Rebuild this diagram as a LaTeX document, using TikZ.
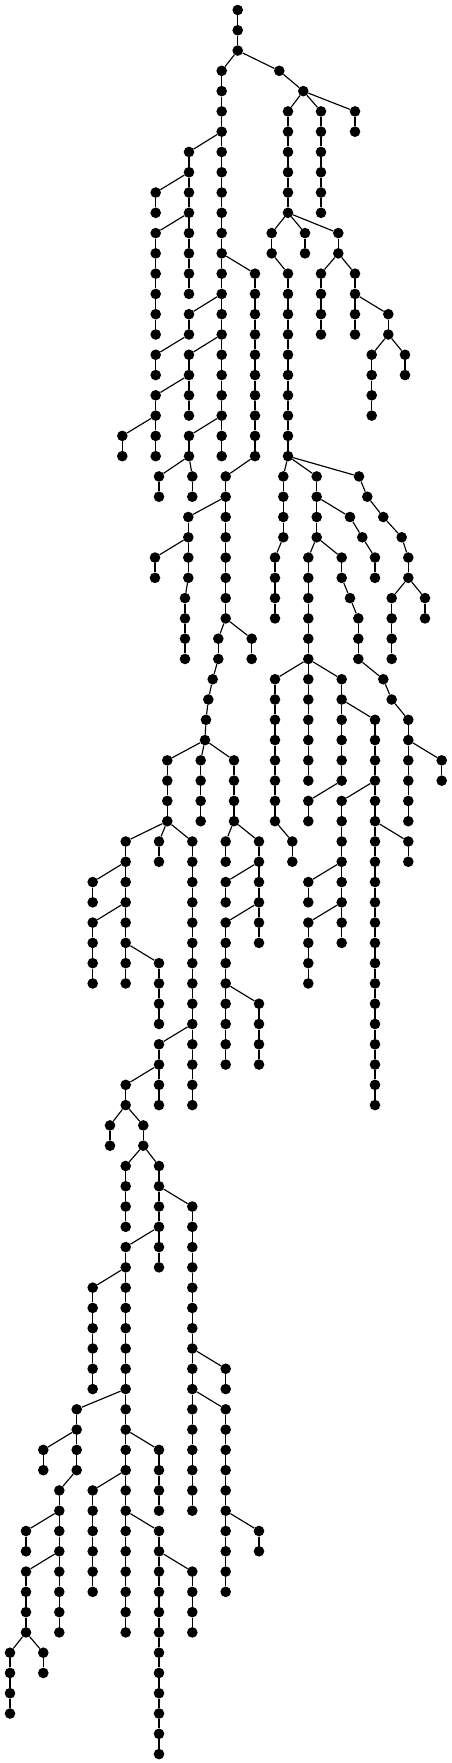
\documentclass[tikz,border=0pt]{standalone}
\tikzset{
  dot/.style={circle, fill=black, draw=none, inner sep=0pt, minimum size=10.6pt},
  edge/.style={line width=1.15pt, black}
}
\newcommand\chainx[5]{%
  \foreach \r in {#3,...,#4}{\node[dot] (#1\r) at (#2,{10+20.28*\r}) {};}%
  \foreach \r [remember=\r as \p (initially #3)] in {#3,...,#4}{\ifnum\r>#3\relax\draw[edge] (#1\p) -- (#1\r);\fi}%
  \ifx\relax#5\relax\else\draw[edge] (#5) -- (#1#3);\fi
}
\begin{document}
\begin{tikzpicture}[x=1pt,y=-1pt]
\useasboundingbox (0,0) rectangle (452,1763);
\chainx{R}{237.7}{0}{2}{}
\chainx{L}{221.7}{3}{22}{R2}
\chainx{Q}{279.3}{3}{3}{R2}
\chainx{S}{303.3}{4}{4}{Q3}
\chainx{T}{288}{5}{10}{S4}
\chainx{U}{321}{5}{10}{S4}
\chainx{V}{355}{5}{6}{S4}
\chainx{W}{271.7}{11}{12}{T10}
\chainx{X}{305}{11}{12}{T10}
\chainx{Y}{338.3}{11}{12}{T10}
\chainx{Z}{288}{13}{22}{W12}
\chainx{AA}{321}{13}{16}{Y12}
\chainx{AB}{355}{13}{16}{Y12}
\chainx{AC}{388.3}{15}{16}{AB14}
\chainx{AD}{371.7}{17}{20}{AC16}
\chainx{AE}{405}{17}{18}{AC16}
\chainx{AF}{255}{13}{22}{L12}
\chainx{AG}{189}{7}{14}{L6}
\chainx{AH}{155.7}{9}{10}{AG8}
\chainx{AI}{155.7}{11}{16}{AG10}
\chainx{AJ}{189}{15}{16}{L14}
\chainx{AK}{155.7}{17}{18}{AJ16}
\chainx{AL}{189}{17}{20}{L16}
\chainx{AM}{155.7}{19}{22}{AL18}
\chainx{AN}{122.3}{21}{22}{AM20}
\chainx{AO}{189}{21}{22}{L20}
\chainx{AP}{159}{23}{24}{AO22}
\chainx{AQ}{192.3}{23}{24}{AO22}
\chainx{AR}{225.7}{23}{30}{AF22}
\chainx{AS}{188.3}{25}{28}{AR24}
\chainx{AT}{155}{27}{28}{AS26}
\chainx{AU}{185}{29}{32}{AS28}
\chainx{AV}{218.3}{31}{32}{AR30}
\chainx{AW}{251.7}{31}{32}{AR30}
\chainx{AX}{212.7}{33}{33}{AV32}
\chainx{AY}{208.3}{34}{34}{AX33}
\chainx{AZ}{206}{35}{35}{AY34}
\chainx{XA}{205}{36}{36}{AZ35}
\chainx{BA}{167.3}{37}{40}{XA36}
\chainx{BB}{200.7}{37}{40}{XA36}
\chainx{BC}{234}{37}{40}{XA36}
\chainx{BD}{125.7}{41}{48}{BA40}
\chainx{BE}{159}{41}{42}{BA40}
\chainx{BF}{192.3}{41}{54}{BA40}
\chainx{BG}{225.7}{41}{42}{BC40}
\chainx{BH}{259}{41}{46}{BC40}
\chainx{BI}{92.7}{43}{44}{BD42}
\chainx{BJ}{92.7}{45}{48}{BD44}
\chainx{BK}{159}{47}{50}{BD46}
\chainx{BL}{225.7}{43}{44}{BH42}
\chainx{BM}{225.7}{45}{52}{BH44}
\chainx{BN}{259}{49}{52}{BM48}
\chainx{BO}{159}{51}{54}{BF50}
\chainx{BP}{125.7}{53}{54}{BO52}
\chainx{BQ}{110}{55}{56}{BP54}
\chainx{BR}{143.3}{55}{56}{BP54}
\chainx{BS}{125.7}{57}{60}{BR56}
\chainx{BT}{159}{57}{62}{BR56}
\chainx{BU}{192.3}{59}{74}{BT58}
\chainx{BV}{125.7}{61}{80}{BT60}
\chainx{BW}{92.7}{63}{68}{BV62}
\chainx{BX}{76.7}{69}{72}{BV68}
\chainx{BY}{159}{71}{74}{BV70}
\chainx{BZ}{92.7}{73}{78}{BV72}
\chainx{CA}{159}{75}{86}{BV74}
\chainx{CB}{192.3}{77}{80}{CA76}
\chainx{CC}{43.3}{71}{72}{BX70}
\chainx{CD}{59.3}{73}{80}{BX72}
\chainx{CE}{26}{75}{76}{CD74}
\chainx{CF}{26}{77}{80}{CD76}
\chainx{CG}{10}{81}{84}{CF80}
\chainx{CH}{43.3}{81}{82}{CF80}
\chainx{CI}{225.7}{67}{68}{BU66}
\chainx{CJ}{225.7}{69}{78}{BU68}
\chainx{CK}{259}{75}{76}{CJ74}
\chainx{DA}{283.3}{23}{26}{Z22}
\chainx{DB}{316.7}{23}{26}{Z22}
\chainx{DCa}{359}{23}{23}{Z22}
\chainx{DCb}{367.3}{24}{24}{DCa23}
\chainx{DCc}{383.3}{25}{25}{DCb24}
\chainx{DCd}{401.7}{26}{26}{DCc25}
\chainx{DCe}{408.3}{27}{28}{DCd26}
\chainx{DD}{275}{27}{30}{DA26}
\chainx{DEa}{350}{25}{25}{DB24}
\chainx{DEb}{362.3}{26}{26}{DEa25}
\chainx{DEc}{375}{27}{28}{DEb26}
\chainx{DF}{308.3}{27}{38}{DB26}
\chainx{DG}{341.7}{27}{28}{DB26}
\chainx{DH}{391.7}{29}{32}{DCe28}
\chainx{DI}{425}{29}{30}{DCe28}
\chainx{DJa}{350}{29}{29}{DG28}
\chainx{DJb}{358.3}{30}{32}{DJa29}
\chainx{DJc}{383.3}{33}{33}{DJb32}
\chainx{DJd}{391.7}{34}{34}{DJc33}
\chainx{DJe}{408.3}{35}{40}{DJd34}
\chainx{DK}{441.7}{37}{38}{DJe36}
\chainx{DL}{275}{33}{40}{DF32}
\chainx{DM}{341.7}{33}{38}{DF32}
\chainx{DN}{375}{35}{54}{DM34}
\chainx{DO}{308.3}{39}{40}{DM38}
\chainx{DP}{292.3}{41}{42}{DL40}
\chainx{DQ}{341.7}{39}{46}{DN38}
\chainx{DR}{408.3}{41}{42}{DN40}
\chainx{DS}{308.3}{43}{44}{DQ42}
\chainx{DT}{308.3}{45}{48}{DQ44}
\end{tikzpicture}
\end{document}
